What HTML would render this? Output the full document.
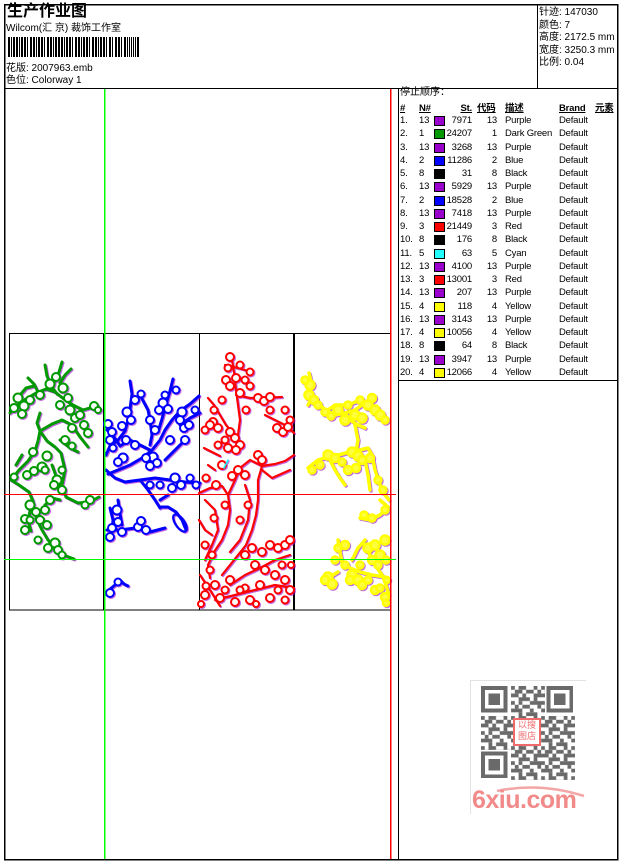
<!DOCTYPE html>
<html><head><meta charset="utf-8">
<style>
html,body{margin:0;padding:0;background:#fff;}
body{width:620px;height:861px;position:relative;overflow:hidden;font-family:"Liberation Sans","Noto Sans CJK SC",sans-serif;color:#000;}
.t{position:absolute;white-space:nowrap;font-size:10px;line-height:12px;}
.r{position:absolute;left:0;width:620px;height:12px;font-size:9.5px;line-height:12px;letter-spacing:-0.2px;}
.r span{position:absolute;top:0;white-space:nowrap;}
.c1{left:400px}.c2{left:419px}
.sw{left:434px;top:1px!important;width:9px;height:8px;border:1px solid #000;}
.st{left:432px;width:40px;text-align:right}
.cd{left:477px;width:20px;text-align:right}
.ds{left:505px}.br{left:559px}
.h span{font-weight:bold;text-decoration:underline;}
svg{position:absolute;left:0;top:0;}
</style></head><body>
<svg width="620" height="861" viewBox="0 0 620 861">
<defs>
<pattern id="qr" x="481" y="686" width="30.08" height="30.08" patternUnits="userSpaceOnUse">
<g fill="#6a6a6a">
<rect x="0" y="0" width="3.76" height="3.76"/><rect x="7.52" y="0" width="7.52" height="3.76"/><rect x="22.56" y="0" width="3.76" height="3.76"/>
<rect x="3.76" y="3.76" width="7.52" height="3.76"/><rect x="15.04" y="3.76" width="7.52" height="3.76"/><rect x="26.32" y="3.76" width="3.76" height="3.76"/>
<rect x="0" y="7.52" width="7.52" height="3.76"/><rect x="11.28" y="7.52" width="3.76" height="3.76"/><rect x="22.56" y="7.52" width="7.52" height="3.76"/>
<rect x="7.52" y="11.28" width="11.28" height="3.76"/><rect x="22.56" y="11.28" width="3.76" height="3.76"/>
<rect x="0" y="15.04" width="3.76" height="3.76"/><rect x="7.52" y="15.04" width="3.76" height="3.76"/><rect x="18.8" y="15.04" width="11.28" height="3.76"/>
<rect x="3.76" y="18.8" width="3.76" height="3.76"/><rect x="11.28" y="18.8" width="7.52" height="3.76"/><rect x="26.32" y="18.8" width="3.76" height="3.76"/>
<rect x="0" y="22.56" width="11.28" height="3.76"/><rect x="18.8" y="22.56" width="3.76" height="3.76"/>
<rect x="7.52" y="26.32" width="3.76" height="3.76"/><rect x="15.04" y="26.32" width="11.28" height="3.76"/>
</g>
</pattern>
</defs>
<g shape-rendering="crispEdges" fill="none">
<rect x="4.5" y="4.5" width="613" height="855" stroke="#000" stroke-width="1.5"/>
<line x1="4" y1="88.5" x2="618" y2="88.5" stroke="#000"/>
<line x1="537.5" y1="4" x2="537.5" y2="88" stroke="#000"/>
<line x1="398.5" y1="88" x2="398.5" y2="860" stroke="#000"/>
<line x1="398" y1="380.5" x2="618" y2="380.5" stroke="#000"/>
<rect x="9.5" y="333.5" width="381" height="276.5" stroke="#000"/>
<line x1="103.5" y1="333" x2="103.5" y2="610" stroke="#000"/>
<line x1="199.5" y1="333" x2="199.5" y2="610" stroke="#000"/>
<line x1="294" y1="333" x2="294" y2="610" stroke="#000" stroke-width="2"/>
</g>
<g fill="none" stroke-linecap="round" stroke-linejoin="round" style="filter:drop-shadow(1px 1px 0 rgba(153,0,204,0.6))">
<g stroke="#009900" stroke-width="3">
<path d="M45,365 L47,376 L51,386 L57,394 M62,362 L59,372 L55,381 M71,369 L65,375 L60,383 M10,413 L18,405 L26,399 L36,393 L46,389 L55,392 L64,399 L73,405 L83,410 L93,407 M38,392 L34,384 L28,378 M40,413 L37,423 L40,431 L38,441 L35,451 L28,461 L19,470 L11,480 L19,485 L29,492 L33,501 L30,511 L28,521 L31,531 M40,431 L47,441 L55,447 L61,453 L65,470 L62,485 L66,497 L78,503 L90,502 L99,497 M40,431 L52,424 L62,420 L72,425 L80,437 L88,447 M36,518 L42,530 L48,540 L56,550 L66,556 L74,559 M16,465 L22,455 M52,465 L56,476 L60,488 M20,395 L26,388 L34,386 M60,440 L70,448 L78,452 M45,505 L52,498 L60,500"/>
<g stroke-width="2" fill="#fff">
<circle cx="18" cy="398" r="4.5"/><circle cx="24" cy="406" r="4.5"/><circle cx="14" cy="408" r="4"/><circle cx="22" cy="414" r="4"/><circle cx="50" cy="384" r="4.5"/><circle cx="56" cy="377" r="4"/><circle cx="63" cy="388" r="4.5"/><circle cx="68" cy="398" r="4"/><circle cx="70" cy="410" r="4.5"/><circle cx="75" cy="418" r="4"/><circle cx="72" cy="428" r="4"/><circle cx="84" cy="425" r="4"/><circle cx="88" cy="433" r="4"/><circle cx="94" cy="406" r="4"/><circle cx="98" cy="410" r="3"/><circle cx="47" cy="456" r="4.5"/><circle cx="42" cy="467" r="4.5"/><circle cx="34" cy="471" r="4"/><circle cx="27" cy="475" r="4"/><circle cx="57" cy="480" r="4.5"/><circle cx="62" cy="490" r="4"/><circle cx="54" cy="485" r="4"/><circle cx="30" cy="505" r="4.5"/><circle cx="36" cy="512" r="4"/><circle cx="40" cy="520" r="4"/><circle cx="25" cy="519" r="4"/><circle cx="25" cy="530" r="4"/><circle cx="47" cy="525" r="4"/><circle cx="55" cy="543" r="4.5"/><circle cx="58" cy="550" r="4"/><circle cx="48" cy="548" r="4"/><circle cx="33" cy="452" r="4"/><circle cx="30" cy="520" r="3.5"/><circle cx="62" cy="470" r="3.5"/><circle cx="45" cy="470" r="3.5"/><circle cx="40" cy="395" r="4"/><circle cx="30" cy="400" r="4"/><circle cx="60" cy="405" r="4"/><circle cx="80" cy="415" r="4"/><circle cx="65" cy="440" r="4"/><circle cx="72" cy="446" r="3.5"/><circle cx="50" cy="500" r="4"/><circle cx="45" cy="510" r="4"/><circle cx="38" cy="540" r="3.5"/><circle cx="62" cy="555" r="3.5"/><circle cx="90" cy="500" r="4"/><circle cx="85" cy="505" r="3.5"/><circle cx="14" cy="477" r="3.5"/>
</g></g>
<g stroke="#0000ff" stroke-width="3">
<path d="M130,381 L132,394 L130,409 L128,420 L125,431 L118,440 L110,446 L106,455 M173,379 L170,391 L166,404 L162,419 L158,432 M199,396 L190,404 L180,411 L172,420 L165,430 L160,440 L152,450 L142,458 L130,465 L118,470 L108,474 M200,413 L190,418 L180,425 M107,430 L114,437 L120,446 M106,470 L115,478 L125,482 L140,480 L155,478 L170,480 L185,482 L200,483 M140,480 L148,490 L155,500 L160,508 M160,507 L168,507 L176,512 L182,520 L186,530 M110,508 L113,520 L112,532 L108,540 M118,500 L120,514 L122,525 M107,530 L120,530 L135,528 L150,532 L165,528 M160,500 L168,495 M109,590 L115,585 L120,580 L124,584 L128,586 M140,395 L148,410 L150,420 L152,435 L150,445 M120,446 L130,440 L140,445 L150,450 M185,440 L175,450 L165,460"/>
<ellipse cx="180" cy="523" rx="10" ry="4.5" transform="rotate(55 180 523)" stroke-width="2.2"/>
<g stroke-width="2" fill="#fff">
<circle cx="127" cy="412" r="4.5"/><circle cx="131" cy="420" r="4"/><circle cx="122" cy="426" r="4"/><circle cx="108" cy="424" r="4"/><circle cx="112" cy="432" r="4"/><circle cx="163" cy="403" r="4.5"/><circle cx="168" cy="409" r="4"/><circle cx="159" cy="410" r="4"/><circle cx="182" cy="412" r="4.5"/><circle cx="180" cy="420" r="4"/><circle cx="184" cy="428" r="4"/><circle cx="189" cy="425" r="4"/><circle cx="153" cy="457" r="4.5"/><circle cx="157" cy="463" r="4"/><circle cx="150" cy="466" r="4"/><circle cx="146" cy="458" r="4"/><circle cx="123" cy="458" r="4.5"/><circle cx="118" cy="462" r="4"/><circle cx="110" cy="440" r="4"/><circle cx="113" cy="448" r="3.5"/><circle cx="175" cy="478" r="4.5"/><circle cx="181" cy="485" r="4"/><circle cx="172" cy="488" r="4"/><circle cx="117" cy="510" r="4.5"/><circle cx="118" cy="522" r="4"/><circle cx="112" cy="528" r="4"/><circle cx="110" cy="537" r="4"/><circle cx="122" cy="532" r="4"/><circle cx="138" cy="527" r="4"/><circle cx="141" cy="521" r="4"/><circle cx="146" cy="530" r="4"/><circle cx="110" cy="593" r="4"/><circle cx="118" cy="582" r="3.5"/><circle cx="165" cy="395" r="3.5"/><circle cx="176" cy="390" r="3.5"/><circle cx="135" cy="400" r="4"/><circle cx="141" cy="394" r="3.5"/><circle cx="150" cy="420" r="4"/><circle cx="155" cy="430" r="4"/><circle cx="170" cy="440" r="4"/><circle cx="185" cy="440" r="4"/><circle cx="195" cy="410" r="3.5"/><circle cx="126" cy="440" r="4"/><circle cx="135" cy="445" r="4"/><circle cx="190" cy="478" r="3.5"/><circle cx="196" cy="485" r="3.5"/><circle cx="150" cy="485" r="3.5"/><circle cx="160" cy="485" r="3.5"/>
</g></g>
<g stroke="#ff0000" stroke-width="2.2">
<path d="M232,360 L234,372 L236,390 L238,405 L240,420 L238,435 M236,395 L250,398 L262,398 L282,397 M208,398 L214,405 L220,415 L226,425 L232,432 M265,415 L275,420 L285,425 L294,433 M204,448 L212,452 L220,456 M208,465 L215,470 M199,493 L210,488 L222,486 L228,495 L230,510 L228,525 L222,540 L214,552 L208,565 L210,578 M228,495 L235,480 L240,468 M262,466 L258,480 L258,500 L256,515 L252,530 L246,545 L238,555 L230,565 L222,575 M262,466 L275,464 L285,461 L294,455 M262,470 L272,478 L290,470 M230,585 L245,575 L260,568 L275,560 L290,555 M215,600 L235,595 L255,590 L275,585 L294,588 M200,575 L210,590 L220,606 M199,520 L205,530 L212,535 M240,468 L250,460 L262,466 M205,500 L215,510 L218,530 L212,545 L205,560 M245,485 L250,500 L248,520 L240,540 L230,552 M225,365 L238,368 L252,372"/>
<g fill="#fff" stroke-width="2">
<circle cx="230" cy="357" r="4"/><circle cx="226" cy="380" r="4"/><circle cx="236" cy="378" r="4"/><circle cx="230" cy="386" r="4"/><circle cx="240" cy="393" r="4"/><circle cx="258" cy="398" r="4"/><circle cx="264" cy="401" r="4"/><circle cx="270" cy="397" r="4"/><circle cx="213" cy="422" r="4"/><circle cx="218" cy="428" r="4"/><circle cx="210" cy="425" r="4"/><circle cx="277" cy="428" r="4"/><circle cx="283" cy="432" r="4"/><circle cx="288" cy="427" r="4"/><circle cx="230" cy="432" r="4"/><circle cx="235" cy="438" r="4"/><circle cx="240" cy="445" r="4"/><circle cx="236" cy="450" r="4"/><circle cx="228" cy="448" r="4"/><circle cx="222" cy="465" r="4"/><circle cx="238" cy="470" r="4"/><circle cx="232" cy="476" r="4"/><circle cx="245" cy="475" r="4"/><circle cx="258" cy="455" r="4"/><circle cx="262" cy="460" r="4"/><circle cx="216" cy="485" r="4"/><circle cx="245" cy="555" r="4"/><circle cx="252" cy="548" r="4"/><circle cx="262" cy="552" r="4"/><circle cx="270" cy="545" r="4"/><circle cx="278" cy="548" r="4"/><circle cx="285" cy="545" r="4"/><circle cx="290" cy="540" r="4"/><circle cx="255" cy="565" r="4"/><circle cx="265" cy="570" r="4"/><circle cx="275" cy="575" r="4"/><circle cx="285" cy="580" r="4"/><circle cx="290" cy="590" r="4"/><circle cx="260" cy="585" r="4"/><circle cx="270" cy="598" r="4"/><circle cx="250" cy="600" r="4"/><circle cx="235" cy="602" r="4"/><circle cx="220" cy="598" r="4"/><circle cx="205" cy="595" r="4"/><circle cx="201" cy="604" r="3"/><circle cx="215" cy="585" r="4"/><circle cx="230" cy="580" r="4"/><circle cx="214" cy="410" r="3.5"/><circle cx="246" cy="410" r="3.5"/><circle cx="210" cy="570" r="3.5"/><circle cx="206" cy="586" r="3.5"/><circle cx="222" cy="400" r="3.5"/><circle cx="245" cy="380" r="3.5"/><circle cx="250" cy="386" r="3.5"/><circle cx="225" cy="440" r="3.5"/><circle cx="218" cy="445" r="3.5"/><circle cx="270" cy="410" r="3.5"/><circle cx="285" cy="410" r="3.5"/><circle cx="290" cy="420" r="3.5"/><circle cx="205" cy="430" r="3.5"/><circle cx="206" cy="478" r="3.5"/><circle cx="225" cy="505" r="3.5"/><circle cx="214" cy="518" r="3.5"/><circle cx="240" cy="520" r="3.5"/><circle cx="248" cy="505" r="3.5"/><circle cx="205" cy="545" r="3.5"/><circle cx="212" cy="555" r="3.5"/><circle cx="282" cy="565" r="3.5"/><circle cx="278" cy="590" r="3.5"/><circle cx="245" cy="588" r="3.5"/><circle cx="225" cy="590" r="3.5"/><circle cx="240" cy="590" r="3.5"/><circle cx="256" cy="604" r="3"/><circle cx="285" cy="600" r="3.5"/><circle cx="291" cy="565" r="3"/><circle cx="228" cy="368" r="3.5"/><circle cx="240" cy="365" r="3.5"/><circle cx="250" cy="372" r="3.5"/>
</g></g>
<path d="M224,468 L228,460" stroke="#00ffff" stroke-width="1.5"/>
<g stroke="#ffff00" stroke-width="3.5">
<path d="M309,373 L311,381 L310,390 L312,398 L308,405 M315,400 L325,410 L335,415 L345,413 L355,410 L362,405 L370,400 M345,413 L350,420 L358,425 L365,428 M355,425 L358,440 L356,452 M308,468 L318,460 L328,457 L338,455 L350,452 L360,450 L368,448 L372,455 L375,470 L380,485 L385,495 L389,500 M330,460 L335,470 L340,478 L345,485 M365,460 L368,475 L370,490 M380,500 L388,507 L380,515 L370,520 L360,518 M338,540 L340,552 L342,562 L350,568 L360,572 L372,575 L385,577 M338,572 L328,578 M365,545 L370,555 L375,565 L382,575 L386,585 L389,595 M352,560 L358,548 L365,540 M325,412 L335,405 L348,405 L360,400"/>
<g stroke-width="2.5" fill="#ffff40">
<circle cx="310" cy="385" r="4.5"/><circle cx="309" cy="395" r="4.5"/><circle cx="314" cy="400" r="4"/><circle cx="338" cy="410" r="4.5"/><circle cx="345" cy="420" r="4.5"/><circle cx="355" cy="415" r="4.5"/><circle cx="362" cy="418" r="4.5"/><circle cx="368" cy="405" r="4.5"/><circle cx="375" cy="410" r="4.5"/><circle cx="380" cy="415" r="4.5"/><circle cx="372" cy="398" r="4"/><circle cx="328" cy="455" r="4.5"/><circle cx="335" cy="458" r="4"/><circle cx="352" cy="452" r="4.5"/><circle cx="358" cy="456" r="4.5"/><circle cx="362" cy="460" r="4"/><circle cx="348" cy="470" r="4"/><circle cx="356" cy="468" r="4"/><circle cx="370" cy="458" r="4"/><circle cx="328" cy="577" r="4.5"/><circle cx="332" cy="584" r="4.5"/><circle cx="325" cy="580" r="4"/><circle cx="352" cy="575" r="4.5"/><circle cx="358" cy="580" r="4.5"/><circle cx="368" cy="548" r="4.5"/><circle cx="375" cy="545" r="4.5"/><circle cx="380" cy="555" r="4.5"/><circle cx="372" cy="560" r="4"/><circle cx="385" cy="540" r="4.5"/><circle cx="375" cy="590" r="4"/><circle cx="385" cy="597" r="4"/><circle cx="386" cy="603" r="3"/><circle cx="345" cy="545" r="4"/><circle cx="350" cy="580" r="4"/><circle cx="362" cy="585" r="4"/><circle cx="305" cy="380" r="3.5"/><circle cx="318" cy="405" r="3.5"/><circle cx="325" cy="412" r="3.5"/><circle cx="331" cy="416" r="3.5"/><circle cx="348" cy="405" r="3.5"/><circle cx="360" cy="400" r="3.5"/><circle cx="385" cy="420" r="3.5"/><circle cx="320" cy="465" r="3.5"/><circle cx="312" cy="470" r="3.5"/><circle cx="342" cy="462" r="3.5"/><circle cx="378" cy="480" r="3.5"/><circle cx="383" cy="490" r="3.5"/><circle cx="385" cy="510" r="3.5"/><circle cx="372" cy="518" r="3.5"/><circle cx="364" cy="515" r="3.5"/><circle cx="338" cy="548" r="3.5"/><circle cx="335" cy="560" r="3.5"/><circle cx="345" cy="565" r="3.5"/><circle cx="360" cy="565" r="3.5"/><circle cx="378" cy="565" r="3.5"/><circle cx="386" cy="560" r="3.5"/><circle cx="368" cy="580" r="3.5"/><circle cx="380" cy="588" r="3.5"/><circle cx="387" cy="580" r="3"/>
</g></g>
</g>
<g shape-rendering="crispEdges">
<line x1="104.5" y1="89" x2="104.5" y2="859" stroke="#00ff00" stroke-width="1.5"/>
<line x1="390.5" y1="89" x2="390.5" y2="859" stroke="#ff0000" stroke-width="1.5"/>
<line x1="4" y1="494.5" x2="396" y2="494.5" stroke="#ff0000" stroke-width="1.2"/>
<line x1="4" y1="559.5" x2="396" y2="559.5" stroke="#00ff00" stroke-width="1.2"/>
</g>
<g fill="#000" shape-rendering="crispEdges">
<rect x="8" y="37" width="2" height="20"/><rect x="11" y="37" width="1" height="20"/><rect x="13" y="37" width="2" height="20"/><rect x="16" y="37" width="2" height="20"/><rect x="19" y="37" width="1" height="20"/><rect x="21" y="37" width="2" height="20"/><rect x="24" y="37" width="2" height="20"/><rect x="27" y="37" width="1" height="20"/><rect x="30" y="37" width="2" height="20"/><rect x="33" y="37" width="2" height="20"/><rect x="36" y="37" width="1" height="20"/><rect x="38" y="37" width="2" height="20"/><rect x="41" y="37" width="2" height="20"/><rect x="44" y="37" width="1" height="20"/><rect x="47" y="37" width="2" height="20"/><rect x="50" y="37" width="2" height="20"/><rect x="53" y="37" width="1" height="20"/><rect x="55" y="37" width="2" height="20"/><rect x="58" y="37" width="2" height="20"/><rect x="61" y="37" width="2" height="20"/><rect x="64" y="37" width="1" height="20"/><rect x="66" y="37" width="2" height="20"/><rect x="69" y="37" width="2" height="20"/><rect x="72" y="37" width="1" height="20"/><rect x="75" y="37" width="2" height="20"/><rect x="78" y="37" width="2" height="20"/><rect x="81" y="37" width="1" height="20"/><rect x="83" y="37" width="2" height="20"/><rect x="86" y="37" width="2" height="20"/><rect x="89" y="37" width="1" height="20"/><rect x="92" y="37" width="2" height="20"/><rect x="95" y="37" width="2" height="20"/><rect x="98" y="37" width="1" height="20"/><rect x="100" y="37" width="2" height="20"/><rect x="103" y="37" width="2" height="20"/><rect x="106" y="37" width="1" height="20"/><rect x="109" y="37" width="2" height="20"/><rect x="112" y="37" width="1" height="20"/><rect x="115" y="37" width="2" height="20"/><rect x="118" y="37" width="2" height="20"/><rect x="121" y="37" width="1" height="20"/><rect x="124" y="37" width="2" height="20"/><rect x="127" y="37" width="1" height="20"/><rect x="129" y="37" width="1" height="20"/><rect x="131" y="37" width="1" height="20"/><rect x="133" y="37" width="1" height="20"/><rect x="135" y="37" width="1" height="20"/><rect x="137" y="37" width="2" height="20"/>
</g>
<g shape-rendering="crispEdges">
<line x1="470" y1="680.5" x2="586" y2="680.5" stroke="#e2e2e2"/>
<line x1="470.5" y1="680" x2="470.5" y2="814" stroke="#e2e2e2"/>
<rect x="481" y="686" width="94" height="94" fill="url(#qr)"/>
<rect x="480" y="685" width="31" height="31" fill="#fff"/>
<rect x="545" y="685" width="31" height="31" fill="#fff"/>
<rect x="480" y="750" width="31" height="31" fill="#fff"/>
<g fill="#6a6a6a">
<rect x="481" y="686" width="26.3" height="26.3"/><rect x="546.7" y="686" width="26.3" height="26.3"/><rect x="481" y="751.7" width="26.3" height="26.3"/>
</g>
<g fill="#fff">
<rect x="484.8" y="689.8" width="18.8" height="18.8"/><rect x="550.5" y="689.8" width="18.8" height="18.8"/><rect x="484.8" y="755.5" width="18.8" height="18.8"/>
</g>
<g fill="#6a6a6a">
<rect x="488.5" y="693.5" width="11.3" height="11.3"/><rect x="554.2" y="693.5" width="11.3" height="11.3"/><rect x="488.5" y="759.2" width="11.3" height="11.3"/>
</g>
<rect x="514" y="719" width="26" height="26" fill="#fff" stroke="#f06a6a" stroke-width="2"/>
</g>
<path d="M497,791 Q540,782 584,796" fill="none" stroke="#f4a5a5" stroke-width="2.5"/>
</svg>

<div class="t" style="left:7px;top:2px;font-size:16px;line-height:20px;font-weight:bold;">生产作业图</div>
<div class="t" style="left:6px;top:23px;font-size:10px;">Wilcom(汇 京) 裁饰工作室</div>
<div class="t" style="left:6px;top:63px;">花版: 2007963.emb</div>
<div class="t" style="left:6px;top:75px;">色位: Colorway 1</div>
<div class="t" style="left:539px;top:7px;">针迹: 147030</div>
<div class="t" style="left:539px;top:19.5px;">颜色: 7</div>
<div class="t" style="left:539px;top:32px;">高度: 2172.5 mm</div>
<div class="t" style="left:539px;top:44.5px;">宽度: 3250.3 mm</div>
<div class="t" style="left:539px;top:57px;">比例: 0.04</div>
<div class="t" style="left:400px;top:87px;">停止顺序：</div>
<div class="r h" style="top:103px;"><span style="left:400px">#</span><span style="left:419px">N#</span><span style="left:432px;width:40px;text-align:right">St.</span><span style="left:477px">代码</span><span style="left:505px">描述</span><span style="left:559px">Brand</span><span style="left:595px">元素</span></div>
<div class="r" style="top:115px;"><span class="c1">1.</span><span class="c2">13</span><span class="sw" style="background:#9900cc"></span><span class="st">7971</span><span class="cd">13</span><span class="ds">Purple</span><span class="br">Default</span></div>
<div class="r" style="top:128.3px;"><span class="c1">2.</span><span class="c2">1</span><span class="sw" style="background:#009900"></span><span class="st">24207</span><span class="cd">1</span><span class="ds">Dark Green</span><span class="br">Default</span></div>
<div class="r" style="top:141.5px;"><span class="c1">3.</span><span class="c2">13</span><span class="sw" style="background:#9900cc"></span><span class="st">3268</span><span class="cd">13</span><span class="ds">Purple</span><span class="br">Default</span></div>
<div class="r" style="top:154.8px;"><span class="c1">4.</span><span class="c2">2</span><span class="sw" style="background:#0000ff"></span><span class="st">11286</span><span class="cd">2</span><span class="ds">Blue</span><span class="br">Default</span></div>
<div class="r" style="top:168px;"><span class="c1">5.</span><span class="c2">8</span><span class="sw" style="background:#000"></span><span class="st">31</span><span class="cd">8</span><span class="ds">Black</span><span class="br">Default</span></div>
<div class="r" style="top:181.3px;"><span class="c1">6.</span><span class="c2">13</span><span class="sw" style="background:#9900cc"></span><span class="st">5929</span><span class="cd">13</span><span class="ds">Purple</span><span class="br">Default</span></div>
<div class="r" style="top:194.6px;"><span class="c1">7.</span><span class="c2">2</span><span class="sw" style="background:#0000ff"></span><span class="st">18528</span><span class="cd">2</span><span class="ds">Blue</span><span class="br">Default</span></div>
<div class="r" style="top:207.8px;"><span class="c1">8.</span><span class="c2">13</span><span class="sw" style="background:#9900cc"></span><span class="st">7418</span><span class="cd">13</span><span class="ds">Purple</span><span class="br">Default</span></div>
<div class="r" style="top:221.1px;"><span class="c1">9.</span><span class="c2">3</span><span class="sw" style="background:#ff0000"></span><span class="st">21449</span><span class="cd">3</span><span class="ds">Red</span><span class="br">Default</span></div>
<div class="r" style="top:234.3px;"><span class="c1">10.</span><span class="c2">8</span><span class="sw" style="background:#000"></span><span class="st">176</span><span class="cd">8</span><span class="ds">Black</span><span class="br">Default</span></div>
<div class="r" style="top:247.6px;"><span class="c1">11.</span><span class="c2">5</span><span class="sw" style="background:#22ffff"></span><span class="st">63</span><span class="cd">5</span><span class="ds">Cyan</span><span class="br">Default</span></div>
<div class="r" style="top:260.9px;"><span class="c1">12.</span><span class="c2">13</span><span class="sw" style="background:#9900cc"></span><span class="st">4100</span><span class="cd">13</span><span class="ds">Purple</span><span class="br">Default</span></div>
<div class="r" style="top:274.1px;"><span class="c1">13.</span><span class="c2">3</span><span class="sw" style="background:#ff0000"></span><span class="st">13001</span><span class="cd">3</span><span class="ds">Red</span><span class="br">Default</span></div>
<div class="r" style="top:287.4px;"><span class="c1">14.</span><span class="c2">13</span><span class="sw" style="background:#9900cc"></span><span class="st">207</span><span class="cd">13</span><span class="ds">Purple</span><span class="br">Default</span></div>
<div class="r" style="top:300.6px;"><span class="c1">15.</span><span class="c2">4</span><span class="sw" style="background:#ffff00"></span><span class="st">118</span><span class="cd">4</span><span class="ds">Yellow</span><span class="br">Default</span></div>
<div class="r" style="top:313.9px;"><span class="c1">16.</span><span class="c2">13</span><span class="sw" style="background:#9900cc"></span><span class="st">3143</span><span class="cd">13</span><span class="ds">Purple</span><span class="br">Default</span></div>
<div class="r" style="top:327.2px;"><span class="c1">17.</span><span class="c2">4</span><span class="sw" style="background:#ffff00"></span><span class="st">10056</span><span class="cd">4</span><span class="ds">Yellow</span><span class="br">Default</span></div>
<div class="r" style="top:340.4px;"><span class="c1">18.</span><span class="c2">8</span><span class="sw" style="background:#000"></span><span class="st">64</span><span class="cd">8</span><span class="ds">Black</span><span class="br">Default</span></div>
<div class="r" style="top:353.7px;"><span class="c1">19.</span><span class="c2">13</span><span class="sw" style="background:#9900cc"></span><span class="st">3947</span><span class="cd">13</span><span class="ds">Purple</span><span class="br">Default</span></div>
<div class="r" style="top:366.9px;"><span class="c1">20.</span><span class="c2">4</span><span class="sw" style="background:#ffff00"></span><span class="st">12066</span><span class="cd">4</span><span class="ds">Yellow</span><span class="br">Default</span></div>
<div class="t" style="left:515px;top:720px;width:24px;font-size:9px;line-height:11px;color:#f06a6a;text-align:center;">以搜<br>图店</div>
<div class="t" style="left:472px;top:786px;font-size:25px;line-height:28px;font-weight:bold;color:#f28a8a;letter-spacing:-0.5px;">6xiu.com</div>
</body></html>
